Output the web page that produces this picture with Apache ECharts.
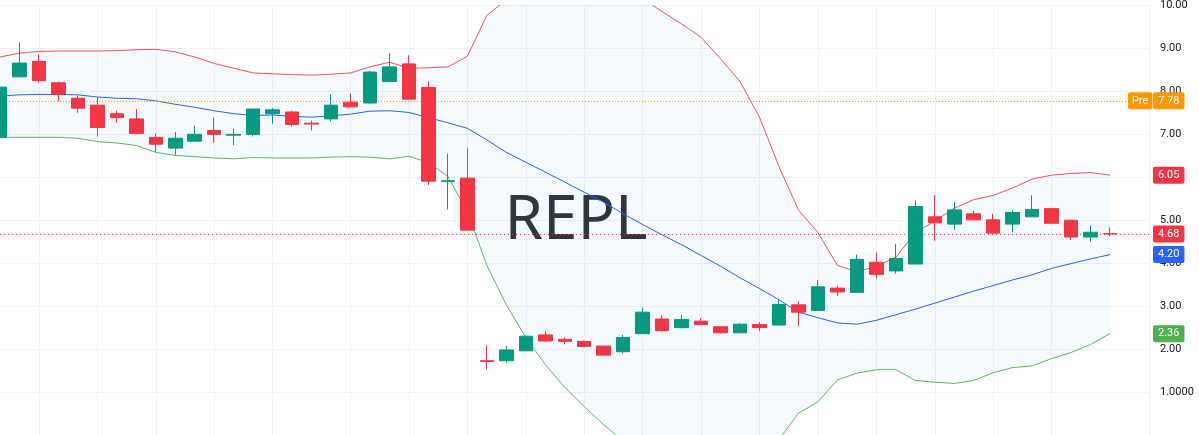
<!DOCTYPE html>
<html lang="en">
<head>
    <meta charset="UTF-8">
    <title>REPL</title>
    <script src="https://cdn.jsdelivr.net/npm/echarts@6/dist/echarts.min.js"></script>
    <style>
        html, body { margin: 0; padding: 0; overflow: hidden; background: #fff; }
        #chart { width: 1199px; height: 435px; }
    </style>
</head>
<body>
    <div id="chart"></div>
    <script>
        // daily bars, oldest first
        var opens  = [6.93, 8.34, 8.70, 8.20, 7.84, 7.68, 7.48, 7.36, 6.93, 6.68,
                      6.84, 7.09, 6.98, 7.00, 7.48, 7.52, 7.26, 7.36, 7.75, 7.73,
                      8.23, 8.64, 8.09, 5.90, 5.98, 1.73, 1.73, 1.96, 2.33, 2.23,
                      2.18, 2.07, 1.94, 2.36, 2.70, 2.50, 2.65, 2.52, 2.38, 2.57,
                      2.56, 3.03, 2.90, 3.42, 3.32, 4.02, 3.82, 3.98, 5.08, 4.91,
                      5.15, 5.01, 4.91, 5.08, 5.27, 5.00, 4.61, 4.69];
        var closes = [8.10, 8.66, 8.25, 7.93, 7.61, 7.16, 7.39, 7.02, 6.77, 6.91,
                      7.00, 7.00, 7.00, 7.59, 7.57, 7.23, 7.24, 7.68, 7.64, 8.45,
                      8.57, 7.82, 5.91, 5.92, 4.77, 1.71, 1.98, 2.30, 2.19, 2.18,
                      2.06, 1.86, 2.27, 2.86, 2.43, 2.69, 2.57, 2.38, 2.58, 2.50,
                      3.04, 2.86, 3.45, 3.33, 4.09, 3.74, 4.11, 5.32, 4.94, 5.24,
                      5.01, 4.70, 5.18, 5.25, 4.93, 4.61, 4.72, 4.68];
        var lows   = [6.93, 8.34, 8.20, 7.77, 7.50, 6.95, 7.27, 7.00, 6.59, 6.52,
                      6.84, 6.80, 6.75, 6.95, 7.25, 7.18, 7.09, 7.30, 7.64, 7.70,
                      8.23, 7.82, 5.82, 5.25, 4.77, 1.52, 1.68, 1.95, 2.16, 2.11,
                      2.05, 1.86, 1.90, 2.36, 2.40, 2.48, 2.57, 2.36, 2.38, 2.42,
                      2.56, 2.54, 2.90, 3.23, 3.32, 3.64, 3.76, 3.98, 4.52, 4.78,
                      5.01, 4.70, 4.72, 5.08, 4.93, 4.54, 4.50, 4.63];
        var highs  = [8.10, 9.14, 8.86, 8.23, 7.91, 7.86, 7.55, 7.59, 7.02, 7.05,
                      7.20, 7.39, 7.14, 7.59, 7.61, 7.55, 7.32, 7.93, 7.95, 8.48,
                      8.89, 8.84, 8.23, 6.55, 6.68, 2.09, 2.07, 2.31, 2.41, 2.27,
                      2.20, 2.07, 2.33, 2.97, 2.79, 2.80, 2.72, 2.52, 2.61, 2.63,
                      3.16, 3.11, 3.61, 3.48, 4.20, 4.25, 4.45, 5.46, 5.58, 5.43,
                      5.22, 5.15, 5.24, 5.58, 5.27, 5.02, 4.88, 4.83];

        // Bollinger bands
        var bbUpper = [8.80, 8.89, 8.93, 8.94, 8.94, 8.94, 8.95, 8.97, 8.98, 8.92,
                       8.80, 8.65, 8.54, 8.43, 8.41, 8.39, 8.38, 8.40, 8.43, 8.57,
                       8.68, 8.54, 8.55, 8.57, 8.82, 9.77, 10.13, 10.43, 10.60, 10.67,
                       10.64, 10.60, 10.45, 10.16, 9.86, 9.57, 9.26, 8.76, 8.23, 7.40,
                       6.25, 5.24, 4.71, 3.95, 3.80, 3.93, 4.14, 4.71, 4.98, 5.28,
                       5.48, 5.58, 5.75, 5.96, 6.05, 6.09, 6.11, 6.05];
        var bbBasis = [7.89, 7.92, 7.93, 7.93, 7.92, 7.87, 7.84, 7.83, 7.78, 7.70,
                       7.63, 7.55, 7.48, 7.44, 7.45, 7.42, 7.40, 7.43, 7.47, 7.54,
                       7.55, 7.51, 7.39, 7.27, 7.14, 6.87, 6.58, 6.35, 6.12, 5.89,
                       5.65, 5.42, 5.15, 4.90, 4.66, 4.43, 4.18, 3.93, 3.66, 3.41,
                       3.15, 2.86, 2.73, 2.61, 2.58, 2.67, 2.80, 2.93, 3.07, 3.21,
                       3.35, 3.48, 3.61, 3.73, 3.88, 3.99, 4.10, 4.20];
        var bbLower = [6.93, 6.93, 6.93, 6.93, 6.91, 6.83, 6.80, 6.74, 6.58, 6.51,
                       6.48, 6.45, 6.43, 6.46, 6.45, 6.45, 6.45, 6.47, 6.48, 6.47,
                       6.43, 6.49, 6.34, 6.02, 5.20, 3.95, 3.03, 2.27, 1.64, 1.11,
                       0.66, 0.24, -0.15, -0.36, -0.54, -0.71, -0.90, -0.90, -0.91, -0.58,
                       -0.11, 0.51, 0.77, 1.28, 1.44, 1.52, 1.52, 1.27, 1.23, 1.20,
                       1.27, 1.45, 1.57, 1.61, 1.78, 1.92, 2.11, 2.36];

        var prePrice = 7.78;
        var symbol = 'REPL';
        var yTicks = [0, 1, 2, 3, 4, 5, 6, 7, 8, 9, 10];
        // bars where a date gridline falls
        var gridDays = [2, 5, 8, 11, 14, 18, 21, 24, 27, 30, 33, 36, 39, 42, 45, 48, 51, 54];
        var emptySlots = 2;

        var UP = '#089981', DOWN = '#F23645';

        var categories = [];
        for (var i = 0; i < opens.length + emptySlots; i++) categories.push(String(i));

        var candles = opens.map(function (o, i) {
            return [o, closes[i], lows[i], highs[i]];
        });
        var bandWidth = bbUpper.map(function (u, i) { return +(u - bbLower[i]).toFixed(2); });

        var last = opens.length - 1;
        var noLine = { color: 'rgba(0,0,0,0)', width: 0 };

        function tag(bg) {
            return {
                show: true,
                position: 'end',
                distance: 4,
                color: '#fff',
                backgroundColor: bg,
                padding: [2, 5],
                fontSize: 11,
                lineHeight: 13,
                fontFamily: 'Roboto',
                borderRadius: 2,
                formatter: function (p) { return p.value.toFixed(2); }
            };
        }

        var chart = echarts.init(document.getElementById('chart'));
        chart.setOption({
            animation: false,
            backgroundColor: '#fff',
            grid: { left: -2, right: 50, top: -1, bottom: -4 },
            graphic: [{
                type: 'text',
                x: 576,
                y: 221,
                z: 1,
                style: {
                    text: symbol,
                    fontSize: 62,
                    fontFamily: 'Noto Sans',
                    fill: '#2f3237',
                    align: 'center',
                    verticalAlign: 'middle'
                }
            }],
            xAxis: {
                type: 'category',
                data: categories,
                boundaryGap: false,
                axisLine: { show: false },
                axisTick: { show: false },
                axisLabel: { show: false },
                splitLine: {
                    show: true,
                    interval: function (idx) { return gridDays.indexOf(idx) >= 0; },
                    lineStyle: { color: '#f0f2f5', width: 1 }
                }
            },
            yAxis: {
                type: 'value',
                position: 'right',
                min: yTicks[0],
                max: yTicks[yTicks.length - 1],
                interval: 1,
                axisLine: { show: true, lineStyle: { color: '#eef0f3' } },
                axisTick: { show: false },
                axisLabel: {
                    margin: 11,
                    showMinLabel: false,
                    color: '#131722',
                    fontSize: 11,
                    fontFamily: 'Roboto',
                    formatter: function (v) { return v === 1 ? '1.0000' : v.toFixed(2); }
                },
                splitLine: { lineStyle: { color: '#f0f2f5' } }
            },
            series: [
                {
                    name: 'bbLowBase',
                    type: 'line',
                    data: bbLower,
                    stack: 'bb',
                    stackStrategy: 'all',
                    symbol: 'none',
                    silent: true,
                    lineStyle: { opacity: 0 },
                    z: 1
                },
                {
                    name: 'bbFill',
                    type: 'line',
                    data: bandWidth,
                    stack: 'bb',
                    stackStrategy: 'all',
                    symbol: 'none',
                    silent: true,
                    lineStyle: { opacity: 0 },
                    areaStyle: { color: 'rgba(33,150,243,0.05)', opacity: 1 },
                    z: 1
                },
                {
                    name: 'Upper',
                    type: 'line',
                    data: bbUpper,
                    symbol: 'none',
                    lineStyle: { color: '#F7525F', width: 1 },
                    z: 3
                },
                {
                    name: 'Lower',
                    type: 'line',
                    data: bbLower,
                    symbol: 'none',
                    lineStyle: { color: '#5DB861', width: 1 },
                    z: 3
                },
                {
                    name: 'Basis',
                    type: 'line',
                    data: bbBasis,
                    symbol: 'none',
                    clip: false,
                    lineStyle: { color: '#2962FF', width: 1 },
                    z: 3
                },
                {
                    name: symbol,
                    type: 'candlestick',
                    data: candles,
                    barWidth: 14,
                    itemStyle: {
                        color: UP,
                        color0: DOWN,
                        borderColor: UP,
                        borderColor0: DOWN,
                        borderWidth: 1
                    },
                    z: 5
                },
                {
                    // price tags on the right scale
                    name: 'tags',
                    type: 'line',
                    data: [],
                    clip: false,
                    z: 10,
                    markLine: {
                        silent: true,
                        symbol: ['none', 'none'],
                        data: [
                            {
                                yAxis: prePrice,
                                lineStyle: { color: '#FF9800', type: [1, 2], width: 1 },
                                label: Object.assign(tag('#FF9800'), {
                                    distance: -21,
                                    padding: [2, 4],
                                    formatter: function () { return 'Pre'; }
                                })
                            },
                            { yAxis: prePrice, lineStyle: noLine, label: tag('#FF9800') },
                            { yAxis: bbUpper[last], lineStyle: noLine, label: tag('#F23645') },
                            { yAxis: bbBasis[last], lineStyle: noLine, label: tag('#2962FF') },
                            { yAxis: bbLower[last], lineStyle: noLine, label: tag('#4CAF50') },
                            {
                                yAxis: closes[last],
                                lineStyle: { color: DOWN, type: [1, 3], width: 1 },
                                label: tag(DOWN)
                            }
                        ]
                    }
                }
            ]
        });
    </script>
</body>
</html>
